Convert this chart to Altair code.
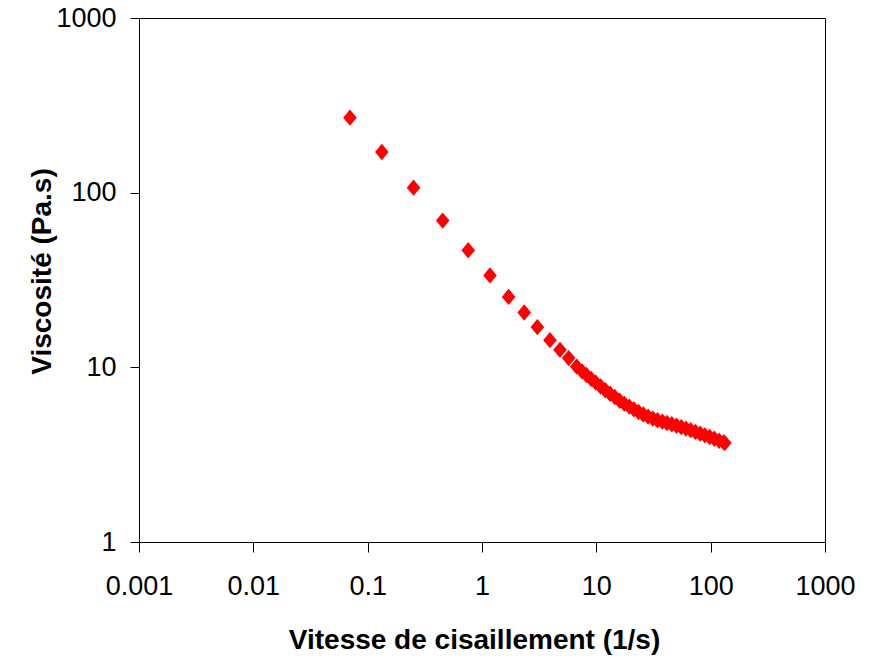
import altair as alt
import pandas as pd

# Shear rate (1/s) and viscosity (Pa.s)
shear_rate = [0.070, 0.133, 0.252, 0.453, 0.758, 1.175, 1.71, 2.34, 3.05, 3.93,
              4.81, 5.73, 6.73, 7.5, 8.2, 9.0, 9.9, 10.9, 12.0, 13.2, 14.5, 16.0,
              17.6, 19.4, 21.3, 23.4, 25.8, 28.4, 31.2, 34.3, 37.8, 41.5, 45.7,
              50.3, 55.3, 60.8, 66.9, 73.6, 81.0, 89.1, 98.0, 107.8, 118.6, 130.0,
              133.0]
viscosity = [268.7, 171.0, 106.8, 69.2, 46.8, 33.6, 25.3, 20.6, 17.0, 14.3,
             12.6, 11.3, 10.1, 9.48, 9.04, 8.59, 8.17, 7.77, 7.39, 7.06, 6.76, 6.44,
             6.18, 5.96, 5.74, 5.55, 5.37, 5.22, 5.09, 4.98, 4.89, 4.80, 4.72,
             4.63, 4.55, 4.46, 4.37, 4.27, 4.17, 4.08, 3.99, 3.90, 3.80, 3.72,
             3.69]

x_ticks = [0.001, 0.01, 0.1, 1, 10, 100, 1000]
y_ticks = [1, 10, 100, 1000]

df = pd.DataFrame({"rate": shear_rate, "visc": viscosity})

FONT = "Liberation Sans"

chart = alt.Chart(df).mark_point(
    shape="M0,-1.2L1,0L0,1.2L-1,0Z",
    filled=True,
    color="#FF0000",
    opacity=1,
    size=185,
    strokeWidth=0,
).encode(
    x=alt.X("rate:Q",
            scale=alt.Scale(type="log", domain=[0.001, 1000], nice=False),
            axis=alt.Axis(values=x_ticks, format="~g", grid=False,
                          title="Vitesse de cisaillement (1/s)",
                          titleX=335, titleY=106, titleBaseline="alphabetic",
                          titleAnchor="start", titleAlign="center",
                          labelPadding=21, tickSize=10)),
    y=alt.Y("visc:Q",
            scale=alt.Scale(type="log", domain=[1, 1000], nice=False),
            axis=alt.Axis(values=y_ticks, format="~g", grid=False,
                          title="Viscosité (Pa.s)",
                          titleX=-89, titleY=253, titleBaseline="alphabetic",
                          titleAngle=-90, titleAlign="center", titleAnchor="start",
                          labelPadding=14, tickSize=9)),
).properties(
    width=686,
    height=524,
    autosize=alt.AutoSizeParams(type="none"),
    padding={"left": 131, "top": 10, "right": 40, "bottom": 115},
    background="white",
).configure_view(
    stroke="black", strokeWidth=1
).configure_axis(
    domainColor="black", tickColor="black", labelColor="black", titleColor="black",
    labelFont=FONT, titleFont=FONT, labelFontSize=27, titleFontSize=28,
    titleFontWeight="bold", domainWidth=1, tickWidth=1, labelFlush=False,
    labelOverlap=False,
)

chart.save("out.html", embed_options={"renderer": "svg", "actions": False})
